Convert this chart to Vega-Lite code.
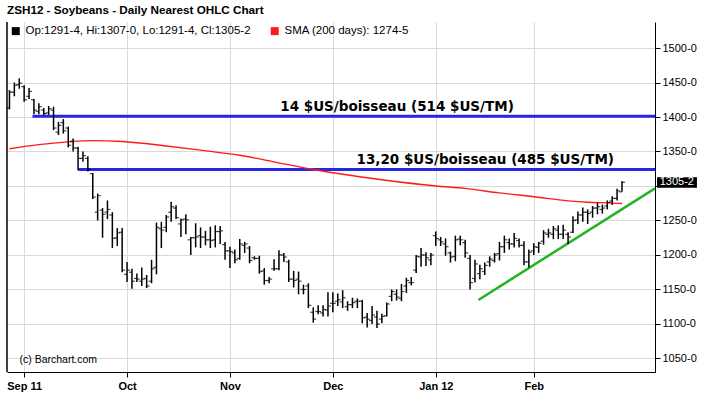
{
  "$schema": "https://vega.github.io/schema/vega-lite/v6.json",
  "width": 648,
  "height": 350,
  "autosize": {"type": "none"},
  "padding": {"left": 7, "top": 22, "right": 48, "bottom": 24},
  "background": "white",
  "title": {"text": "ZSH12 - Soybeans - Daily Nearest OHLC Chart", "anchor": "start", "frame": "group", "font": "Liberation Sans", "fontSize": 11.7, "fontWeight": "bold", "color": "#000000", "offset": 5},
  "config": {
    "view": {"stroke": null},
    "axis": {"domainColor": "#000000", "domainWidth": 1, "tickColor": "#000000", "tickSize": 5, "gridColor": "#d9d9d9", "gridWidth": 1, "labelColor": "#000000", "labelFont": "Liberation Sans", "labelFontSize": 11, "labelOverlap": false, "labelBound": false},
    "axisX": {"labelFontWeight": "bold", "labelPadding": 3},
    "axisY": {"labelPadding": 2}
  },
  "datasets": {
    "bars": [
      {"s":0,"date":"2011-08-29","open":1413,"high":1439,"low":1411,"close":1436},
      {"s":1,"date":"2011-08-30","open":1436,"high":1450,"low":1430,"close":1446},
      {"s":2,"date":"2011-08-31","open":1447,"high":1456,"low":1441,"close":1449},
      {"s":3,"date":"2011-09-01","open":1444,"high":1446,"low":1422,"close":1425},
      {"s":4,"date":"2011-09-02","open":1430,"high":1442,"low":1426,"close":1437},
      {"s":5,"date":"2011-09-06","open":1425,"high":1426,"low":1404,"close":1410},
      {"s":6,"date":"2011-09-07","open":1408,"high":1420,"low":1404,"close":1415},
      {"s":7,"date":"2011-09-08","open":1410,"high":1413,"low":1403,"close":1405},
      {"s":8,"date":"2011-09-09","open":1406,"high":1416,"low":1403,"close":1412},
      {"s":9,"date":"2011-09-12","open":1410,"high":1415,"low":1381,"close":1384},
      {"s":10,"date":"2011-09-13","open":1378,"high":1393,"low":1374,"close":1388},
      {"s":11,"date":"2011-09-14","open":1392,"high":1397,"low":1376,"close":1380},
      {"s":12,"date":"2011-09-15","open":1384,"high":1386,"low":1356,"close":1359},
      {"s":13,"date":"2011-09-16","open":1365,"high":1369,"low":1350,"close":1355},
      {"s":14,"date":"2011-09-19","open":1355,"high":1357,"low":1323,"close":1340},
      {"s":15,"date":"2011-09-20","open":1340,"high":1350,"low":1335,"close":1344},
      {"s":16,"date":"2011-09-21","open":1340,"high":1343,"low":1321,"close":1324},
      {"s":17,"date":"2011-09-22","open":1318,"high":1319,"low":1281,"close":1284},
      {"s":18,"date":"2011-09-23","open":1262,"high":1289,"low":1250,"close":1286},
      {"s":19,"date":"2011-09-26","open":1265,"high":1268,"low":1225,"close":1259},
      {"s":20,"date":"2011-09-27","open":1262,"high":1279,"low":1252,"close":1266},
      {"s":21,"date":"2011-09-28","open":1258,"high":1262,"low":1210,"close":1224},
      {"s":22,"date":"2011-09-29","open":1225,"high":1239,"low":1213,"close":1232},
      {"s":23,"date":"2011-09-30","open":1233,"high":1239,"low":1175,"close":1178},
      {"s":24,"date":"2011-10-03","open":1172,"high":1190,"low":1161,"close":1178},
      {"s":25,"date":"2011-10-04","open":1175,"high":1180,"low":1151,"close":1162},
      {"s":26,"date":"2011-10-05","open":1166,"high":1173,"low":1161,"close":1165},
      {"s":27,"date":"2011-10-06","open":1162,"high":1182,"low":1155,"close":1165},
      {"s":28,"date":"2011-10-07","open":1166,"high":1171,"low":1152,"close":1155},
      {"s":29,"date":"2011-10-10","open":1162,"high":1193,"low":1159,"close":1180},
      {"s":30,"date":"2011-10-11","open":1182,"high":1247,"low":1172,"close":1240},
      {"s":31,"date":"2011-10-12","open":1238,"high":1248,"low":1210,"close":1236},
      {"s":32,"date":"2011-10-13","open":1240,"high":1258,"low":1233,"close":1255},
      {"s":33,"date":"2011-10-14","open":1262,"high":1277,"low":1248,"close":1270},
      {"s":34,"date":"2011-10-17","open":1268,"high":1272,"low":1252,"close":1254},
      {"s":35,"date":"2011-10-18","open":1245,"high":1253,"low":1226,"close":1251},
      {"s":36,"date":"2011-10-19","open":1252,"high":1259,"low":1230,"close":1251},
      {"s":37,"date":"2011-10-20","open":1222,"high":1226,"low":1200,"close":1225},
      {"s":38,"date":"2011-10-21","open":1225,"high":1246,"low":1211,"close":1226},
      {"s":39,"date":"2011-10-24","open":1228,"high":1240,"low":1210,"close":1226},
      {"s":40,"date":"2011-10-25","open":1226,"high":1235,"low":1214,"close":1222},
      {"s":41,"date":"2011-10-26","open":1222,"high":1241,"low":1210,"close":1221},
      {"s":42,"date":"2011-10-27","open":1222,"high":1243,"low":1211,"close":1234},
      {"s":43,"date":"2011-10-28","open":1234,"high":1242,"low":1216,"close":1235},
      {"s":44,"date":"2011-10-31","open":1215,"high":1219,"low":1193,"close":1206},
      {"s":45,"date":"2011-11-01","open":1206,"high":1212,"low":1181,"close":1205},
      {"s":46,"date":"2011-11-02","open":1203,"high":1208,"low":1188,"close":1193},
      {"s":47,"date":"2011-11-03","open":1195,"high":1223,"low":1193,"close":1216},
      {"s":48,"date":"2011-11-04","open":1214,"high":1219,"low":1203,"close":1216},
      {"s":49,"date":"2011-11-07","open":1210,"high":1213,"low":1188,"close":1192},
      {"s":50,"date":"2011-11-08","open":1196,"high":1198,"low":1193,"close":1195},
      {"s":51,"date":"2011-11-09","open":1195,"high":1199,"low":1173,"close":1176},
      {"s":52,"date":"2011-11-10","open":1177,"high":1181,"low":1157,"close":1163},
      {"s":53,"date":"2011-11-11","open":1163,"high":1168,"low":1159,"close":1165},
      {"s":54,"date":"2011-11-14","open":1180,"high":1194,"low":1177,"close":1180},
      {"s":55,"date":"2011-11-15","open":1180,"high":1207,"low":1178,"close":1200},
      {"s":56,"date":"2011-11-16","open":1200,"high":1203,"low":1190,"close":1197},
      {"s":57,"date":"2011-11-17","open":1190,"high":1193,"low":1161,"close":1165},
      {"s":58,"date":"2011-11-18","open":1165,"high":1177,"low":1153,"close":1163},
      {"s":59,"date":"2011-11-21","open":1165,"high":1176,"low":1143,"close":1162},
      {"s":60,"date":"2011-11-22","open":1150,"high":1157,"low":1143,"close":1150},
      {"s":61,"date":"2011-11-23","open":1155,"high":1159,"low":1123,"close":1127},
      {"s":62,"date":"2011-11-25","open":1117,"high":1124,"low":1102,"close":1107},
      {"s":63,"date":"2011-11-28","open":1118,"high":1127,"low":1114,"close":1118},
      {"s":64,"date":"2011-11-29","open":1116,"high":1127,"low":1111,"close":1121},
      {"s":65,"date":"2011-11-30","open":1120,"high":1146,"low":1111,"close":1126},
      {"s":66,"date":"2011-12-01","open":1130,"high":1146,"low":1117,"close":1130},
      {"s":67,"date":"2011-12-02","open":1133,"high":1144,"low":1126,"close":1135},
      {"s":68,"date":"2011-12-05","open":1132,"high":1149,"low":1123,"close":1138},
      {"s":69,"date":"2011-12-06","open":1125,"high":1133,"low":1119,"close":1128},
      {"s":70,"date":"2011-12-07","open":1128,"high":1138,"low":1123,"close":1131},
      {"s":71,"date":"2011-12-08","open":1133,"high":1137,"low":1123,"close":1133},
      {"s":72,"date":"2011-12-09","open":1133,"high":1135,"low":1101,"close":1109},
      {"s":73,"date":"2011-12-12","open":1110,"high":1116,"low":1095,"close":1107},
      {"s":74,"date":"2011-12-13","open":1105,"high":1126,"low":1100,"close":1113},
      {"s":75,"date":"2011-12-14","open":1110,"high":1119,"low":1094,"close":1100},
      {"s":76,"date":"2011-12-15","open":1107,"high":1115,"low":1101,"close":1111},
      {"s":77,"date":"2011-12-16","open":1112,"high":1131,"low":1111,"close":1129},
      {"s":78,"date":"2011-12-19","open":1140,"high":1150,"low":1133,"close":1147},
      {"s":79,"date":"2011-12-20","open":1143,"high":1150,"low":1134,"close":1139},
      {"s":80,"date":"2011-12-21","open":1137,"high":1158,"low":1133,"close":1147},
      {"s":81,"date":"2011-12-22","open":1155,"high":1167,"low":1145,"close":1163},
      {"s":82,"date":"2011-12-23","open":1160,"high":1168,"low":1156,"close":1160},
      {"s":83,"date":"2011-12-27","open":1178,"high":1200,"low":1174,"close":1198},
      {"s":84,"date":"2011-12-28","open":1197,"high":1210,"low":1183,"close":1200},
      {"s":85,"date":"2011-12-29","open":1200,"high":1204,"low":1184,"close":1196},
      {"s":86,"date":"2011-12-30","open":1193,"high":1203,"low":1185,"close":1200},
      {"s":87,"date":"2012-01-03","open":1228,"high":1234,"low":1213,"close":1224},
      {"s":88,"date":"2012-01-04","open":1222,"high":1226,"low":1213,"close":1219},
      {"s":89,"date":"2012-01-05","open":1216,"high":1224,"low":1199,"close":1212},
      {"s":90,"date":"2012-01-06","open":1203,"high":1205,"low":1189,"close":1197},
      {"s":91,"date":"2012-01-09","open":1198,"high":1228,"low":1191,"close":1222},
      {"s":92,"date":"2012-01-10","open":1223,"high":1228,"low":1214,"close":1222},
      {"s":93,"date":"2012-01-11","open":1218,"high":1222,"low":1196,"close":1203},
      {"s":94,"date":"2012-01-12","open":1195,"high":1200,"low":1150,"close":1160},
      {"s":95,"date":"2012-01-13","open":1166,"high":1193,"low":1160,"close":1187},
      {"s":96,"date":"2012-01-17","open":1173,"high":1186,"low":1165,"close":1180},
      {"s":97,"date":"2012-01-18","open":1176,"high":1189,"low":1171,"close":1185},
      {"s":98,"date":"2012-01-19","open":1190,"high":1198,"low":1183,"close":1194},
      {"s":99,"date":"2012-01-20","open":1192,"high":1203,"low":1189,"close":1200},
      {"s":100,"date":"2012-01-23","open":1202,"high":1219,"low":1192,"close":1212},
      {"s":101,"date":"2012-01-24","open":1212,"high":1228,"low":1203,"close":1222},
      {"s":102,"date":"2012-01-25","open":1218,"high":1224,"low":1208,"close":1216},
      {"s":103,"date":"2012-01-26","open":1216,"high":1232,"low":1211,"close":1224},
      {"s":104,"date":"2012-01-27","open":1221,"high":1224,"low":1211,"close":1214},
      {"s":105,"date":"2012-01-30","open":1214,"high":1220,"low":1185,"close":1190},
      {"s":106,"date":"2012-01-31","open":1190,"high":1208,"low":1182,"close":1204},
      {"s":107,"date":"2012-02-01","open":1206,"high":1217,"low":1200,"close":1212},
      {"s":108,"date":"2012-02-02","open":1211,"high":1219,"low":1203,"close":1217},
      {"s":109,"date":"2012-02-03","open":1220,"high":1236,"low":1215,"close":1232},
      {"s":110,"date":"2012-02-06","open":1230,"high":1238,"low":1225,"close":1232},
      {"s":111,"date":"2012-02-07","open":1230,"high":1242,"low":1223,"close":1238},
      {"s":112,"date":"2012-02-08","open":1236,"high":1243,"low":1223,"close":1230},
      {"s":113,"date":"2012-02-09","open":1230,"high":1244,"low":1223,"close":1236},
      {"s":114,"date":"2012-02-10","open":1230,"high":1233,"low":1216,"close":1226},
      {"s":115,"date":"2012-02-13","open":1233,"high":1256,"low":1232,"close":1250},
      {"s":116,"date":"2012-02-14","open":1251,"high":1263,"low":1245,"close":1258},
      {"s":117,"date":"2012-02-15","open":1258,"high":1269,"low":1248,"close":1262},
      {"s":118,"date":"2012-02-16","open":1262,"high":1266,"low":1245,"close":1260},
      {"s":119,"date":"2012-02-17","open":1262,"high":1271,"low":1254,"close":1268},
      {"s":120,"date":"2012-02-21","open":1268,"high":1276,"low":1259,"close":1270},
      {"s":121,"date":"2012-02-22","open":1266,"high":1273,"low":1260,"close":1268},
      {"s":122,"date":"2012-02-23","open":1271,"high":1279,"low":1266,"close":1276},
      {"s":123,"date":"2012-02-24","open":1278,"high":1285,"low":1272.5,"close":1282},
      {"s":124,"date":"2012-02-27","open":1282,"high":1296,"low":1279,"close":1293},
      {"s":125,"date":"2012-02-28","open":1291.5,"high":1307,"low":1291.5,"close":1305.25}
    ],
    "sma": [
      {"s":0,"sma":1354},{"s":6,"sma":1360},{"s":12,"sma":1364},{"s":17,"sma":1365.7},{"s":23,"sma":1364.5},
      {"s":32,"sma":1358},{"s":39,"sma":1352},{"s":47,"sma":1344.5},{"s":54,"sma":1335},{"s":62,"sma":1324},
      {"s":68,"sma":1317},{"s":76,"sma":1309},{"s":87,"sma":1300},{"s":93,"sma":1296.5},{"s":100,"sma":1290},
      {"s":107,"sma":1284.5},{"s":114,"sma":1278.5},{"s":118,"sma":1276.4},{"s":122,"sma":1275.5},{"s":125,"sma":1274.6}
    ],
    "levels": [
      {"label":"14 $US/boisseau (514 $US/TM)","price":1401,"from":4.7,"to":131.74,"at":79.1},
      {"label":"13,20 $US/boisseau (485 $US/TM)","price":1324,"from":14.05,"to":131.74,"at":97.1}
    ],
    "trend": [
      {"s":95.7,"v":1134.8},
      {"s":131.74,"v":1296.6}
    ],
    "notes": [
      {"what":"frame","s":-0.5,"lo":1030.4,"hi":1537.7}
    ],
    "last": [
      {"tag":"1305-2","close":1305.25,"left":132.15,"right":140.3,"mid":136.2,"top":1312.5,"bottom":1297.5}
    ]
  },
  "layer": [
    {
      "mark": {"type": "rect", "color": "#d5d5f7", "opacity": 0.6},
      "encoding": {
        "y": {"datum": 1516, "type": "quantitative"},
        "y2": {"datum": 1537.7}
      }
    },
    {
      "data": {"name": "levels"},
      "mark": {"type": "rule", "color": "#2626e6", "strokeWidth": 3},
      "encoding": {
        "x": {"field": "from", "type": "quantitative", "title": null},
        "x2": {"field": "to"},
        "y": {"field": "price", "type": "quantitative", "title": null}
      }
    },
    {
      "data": {"name": "levels"},
      "mark": {"type": "text", "font": "DejaVu Sans", "fontWeight": "bold", "fontSize": 13.5, "color": "#000000", "baseline": "alphabetic", "align": "center", "dy": -5},
      "encoding": {
        "x": {"field": "at", "type": "quantitative", "title": null},
        "y": {"field": "price", "type": "quantitative", "title": null},
        "text": {"field": "label"}
      }
    },
    {
      "data": {"name": "sma"},
      "mark": {"type": "line", "strokeWidth": 1.4, "interpolate": "monotone"},
      "encoding": {
        "x": {"field": "s", "type": "quantitative", "title": null},
        "y": {"field": "sma", "type": "quantitative", "title": null},
        "color": {"datum": "SMA (200 days): 1274-5", "type": "nominal"}
      }
    },
    {
      "data": {"name": "trend"},
      "mark": {"type": "line", "color": "#22b422", "strokeWidth": 2.5},
      "encoding": {
        "x": {"field": "s", "type": "quantitative", "title": null},
        "y": {"field": "v", "type": "quantitative", "title": null}
      }
    },
    {
      "data": {"name": "bars"},
      "mark": {"type": "rule", "strokeWidth": 1.5},
      "encoding": {
        "x": {"field": "s", "type": "quantitative", "title": null,
              "scale": {"domain": [-0.5, 131.74], "nice": false, "zero": false},
              "axis": {"values": [3, 24, 45, 66, 87, 107], "grid": true, "labelOverlap": false, "labelExpr": "datum.value == 3 ? 'Sep 11' : datum.value == 24 ? 'Oct' : datum.value == 45 ? 'Nov' : datum.value == 66 ? 'Dec' : datum.value == 87 ? 'Jan 12' : 'Feb'"}},
        "y": {"field": "low", "type": "quantitative", "title": null,
              "scale": {"domain": [1030.4, 1537.7], "nice": false, "zero": false},
              "axis": {"orient": "right", "values": [1050, 1100, 1150, 1200, 1250, 1300, 1350, 1400, 1450, 1500], "grid": true, "labelOverlap": false, "labelSeparation": 0, "tickCount": 20, "labelExpr": "datum.value == 1300 ? '' : datum.value + '-0'"}},
        "y2": {"field": "high"},
        "color": {"datum": "Op:1291-4, Hi:1307-0, Lo:1291-4, Cl:1305-2", "type": "nominal",
                  "scale": {"domain": ["Op:1291-4, Hi:1307-0, Lo:1291-4, Cl:1305-2", "SMA (200 days): 1274-5"], "range": ["#000000", "#ff1a1a"]},
                  "legend": {"orient": "none", "legendX": 3, "legendY": 3, "direction": "horizontal", "title": null, "symbolType": "square", "symbolSize": 9, "symbolStrokeWidth": 5, "labelFont": "Liberation Sans", "labelFontSize": 11.5, "labelColor": "#000000", "labelLimit": 500, "columnPadding": 12, "labelOffset": 4}}
      }
    },
    {
      "data": {"name": "bars"},
      "mark": {"type": "tick", "orient": "horizontal", "color": "#000000", "size": 3, "thickness": 1.2, "xOffset": -1.5},
      "encoding": {
        "x": {"field": "s", "type": "quantitative", "title": null},
        "y": {"field": "open", "type": "quantitative", "title": null}
      }
    },
    {
      "data": {"name": "bars"},
      "mark": {"type": "tick", "orient": "horizontal", "color": "#000000", "size": 3, "thickness": 1.2, "xOffset": 1.5},
      "encoding": {
        "x": {"field": "s", "type": "quantitative", "title": null},
        "y": {"field": "close", "type": "quantitative", "title": null}
      }
    },
    {
      "data": {"name": "notes"},
      "mark": {"type": "rule", "color": "#000000", "strokeWidth": 1.5},
      "encoding": {
        "x": {"field": "s", "type": "quantitative", "title": null},
        "y": {"field": "lo", "type": "quantitative", "title": null},
        "y2": {"field": "hi"}
      }
    },
    {
      "data": {"name": "notes"},
      "mark": {"type": "text", "text": "(c) Barchart.com", "font": "Liberation Sans", "fontSize": 10.5, "color": "#000000", "align": "left", "baseline": "middle", "dx": 12.5},
      "encoding": {
        "x": {"field": "s", "type": "quantitative", "title": null},
        "y": {"datum": 1047.8, "type": "quantitative"}
      }
    },
    {
      "data": {"name": "last"},
      "mark": {"type": "rect", "color": "#000000"},
      "encoding": {
        "x": {"field": "left", "type": "quantitative", "title": null},
        "x2": {"field": "right"},
        "y": {"field": "top", "type": "quantitative", "title": null},
        "y2": {"field": "bottom"}
      }
    },
    {
      "data": {"name": "last"},
      "mark": {"type": "text", "font": "Liberation Sans", "fontSize": 11, "color": "#ffffff", "align": "center", "baseline": "middle"},
      "encoding": {
        "x": {"field": "mid", "type": "quantitative", "title": null},
        "y": {"field": "close", "type": "quantitative", "title": null},
        "text": {"field": "tag"}
      }
    }
  ]
}
